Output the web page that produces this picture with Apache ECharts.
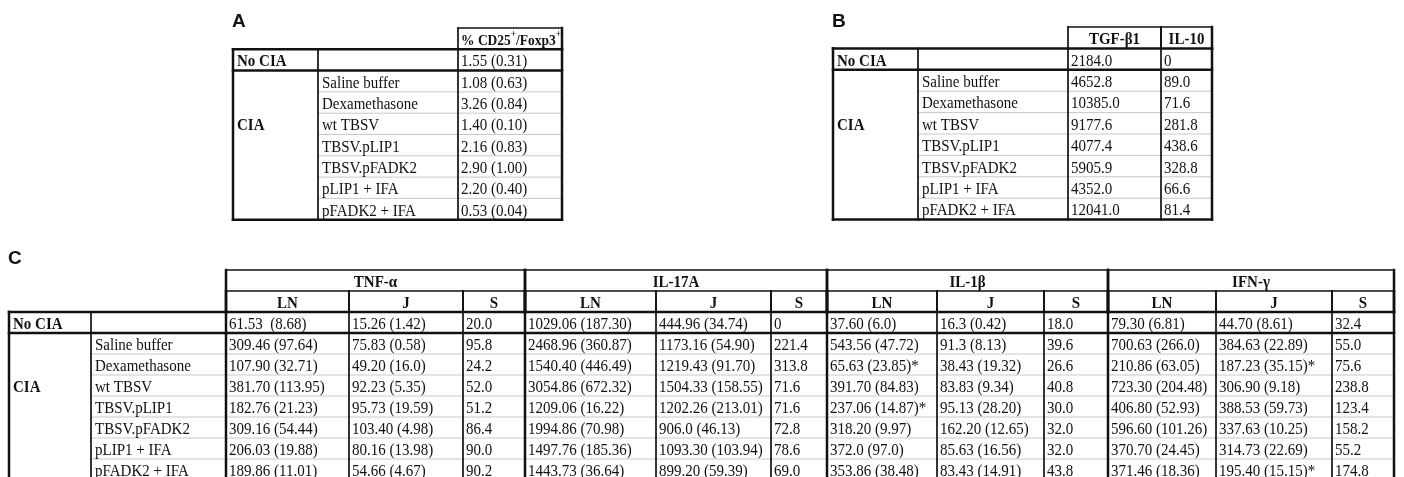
<!DOCTYPE html>
<html><head><meta charset="utf-8">
<script src="https://cdn.jsdelivr.net/npm/echarts@6/dist/echarts.min.js"></script>
<style>html,body{margin:0;padding:0;background:#fff}#c{width:1404px;height:477px}</style>
</head><body><div id="c"></div>
<script>
// ---------------- data ----------------
const groups = ['No CIA', 'CIA'];
const treatments = ['Saline buffer', 'Dexamethasone', 'wt TBSV', 'TBSV.pLIP1', 'TBSV.pFADK2', 'pLIP1 + IFA', 'pFADK2 + IFA'];

// Table A  (first entry = No CIA, then treatments)
const tableAHeader = '% CD25{sup|+}/Foxp3{sup|+}';
const cd25Foxp3 = ['1.55 (0.31)', '1.08 (0.63)', '3.26 (0.84)', '1.40 (0.10)', '2.16 (0.83)', '2.90 (1.00)', '2.20 (0.40)', '0.53 (0.04)'];

// Table B
const tableBHeaders = ['TGF-β1', 'IL-10'];
const tgfB1 = ['2184.0', '4652.8', '10385.0', '9177.6', '4077.4', '5905.9', '4352.0', '12041.0'];
const il10 = ['0', '89.0', '71.6', '281.8', '438.6', '328.8', '66.6', '81.4'];

// Table C
const cytokines = ['TNF-α', 'IL-17A', 'IL-1β', 'IFN-γ'];
const tissues = ['LN', 'J', 'S'];
const tnfLN = ['61.53  (8.68)', '309.46 (97.64)', '107.90 (32.71)', '381.70 (113.95)', '182.76 (21.23)', '309.16 (54.44)', '206.03 (19.88)', '189.86 (11.01)'];
const tnfJ = ['15.26 (1.42)', '75.83 (0.58)', '49.20 (16.0)', '92.23 (5.35)', '95.73 (19.59)', '103.40 (4.98)', '80.16 (13.98)', '54.66 (4.67)'];
const tnfS = ['20.0', '95.8', '24.2', '52.0', '51.2', '86.4', '90.0', '90.2'];
const il17aLN = ['1029.06 (187.30)', '2468.96 (360.87)', '1540.40 (446.49)', '3054.86 (672.32)', '1209.06 (16.22)', '1994.86 (70.98)', '1497.76 (185.36)', '1443.73 (36.64)'];
const il17aJ = ['444.96 (34.74)', '1173.16 (54.90)', '1219.43 (91.70)', '1504.33 (158.55)', '1202.26 (213.01)', '906.0 (46.13)', '1093.30 (103.94)', '899.20 (59.39)'];
const il17aS = ['0', '221.4', '313.8', '71.6', '71.6', '72.8', '78.6', '69.0'];
const il1bLN = ['37.60 (6.0)', '543.56 (47.72)', '65.63 (23.85)*', '391.70 (84.83)', '237.06 (14.87)*', '318.20 (9.97)', '372.0 (97.0)', '353.86 (38.48)'];
const il1bJ = ['16.3 (0.42)', '91.3 (8.13)', '38.43 (19.32)', '83.83 (9.34)', '95.13 (28.20)', '162.20 (12.65)', '85.63 (16.56)', '83.43 (14.91)'];
const il1bS = ['18.0', '39.6', '26.6', '40.8', '30.0', '32.0', '32.0', '43.8'];
const ifngLN = ['79.30 (6.81)', '700.63 (266.0)', '210.86 (63.05)', '723.30 (204.48)', '406.80 (52.93)', '596.60 (101.26)', '370.70 (24.45)', '371.46 (18.36)'];
const ifngJ = ['44.70 (8.61)', '384.63 (22.89)', '187.23 (35.15)*', '306.90 (9.18)', '388.53 (59.73)', '337.63 (10.25)', '314.73 (22.69)', '195.40 (15.15)*'];
const ifngS = ['32.4', '55.0', '75.6', '238.8', '123.4', '158.2', '55.2', '174.8'];

// ---------------- layout / style ----------------
const SERIF = '"Liberation Serif", "Times New Roman", serif';
const TEXT_SCALE_Y = 1.15;
const LINE = { grey: { stroke: '#c8c8c8', w: 1 }, thin: { stroke: '#111', w: 1.7 }, thick: { stroke: '#111', w: 2.5 } };

function buildTable(cfg) {
  const H = cfg.headRows;
  const nRows = H + 1 + treatments.length;
  const nC = 2 + cfg.columns.length;
  const edges = [0];
  cfg.colW.forEach(w => edges.push(edges[edges.length - 1] + w));
  const cells = [];
  cfg.headCells.forEach(h => cells.push(Object.assign({ bold: true }, h)));
  cells.push({ c: 0, r: H, span: 1, text: groups[0], bold: true });
  cells.push({ c: 0, r: H + 1 + 2, span: 1, text: groups[1], bold: true });
  treatments.forEach((t, i) => cells.push({ c: 1, r: H + 1 + i, span: 1, text: t }));
  cfg.columns.forEach((arr, j) => arr.forEach((v, i) => cells.push({ c: 2 + j, r: H + i, span: 1, text: v })));
  const thickCols = cfg.thickCols || [];
  const vk = c => (c === 0 || c === nC || thickCols.indexOf(c) >= 0) ? 'thick' : 'thin';
  const lines = { grey: [], thin: [], thick: [] };
  cfg.headCells.forEach(h => {
    lines.thin.push([h.c, h.r, h.c + h.span, h.r]);
    lines[vk(h.c)].push([h.c, h.r, h.c, H]);
    lines[vk(h.c + h.span)].push([h.c + h.span, h.r, h.c + h.span, H]);
  });
  lines.thick.push([0, H, nC, H]);
  lines.thick.push([0, H + 1, nC, H + 1]);
  lines.thick.push([0, nRows, nC, nRows]);
  for (let r = H + 2; r < nRows; r++) lines.grey.push([1, r, nC, r]);
  for (let c = 0; c <= nC; c++) lines[vk(c)].push([c, H, c, nRows]);
  return { cells, lines, edges, nRows, width: edges[edges.length - 1], left: cfg.left, top: cfg.top, rowH: cfg.rowH };
}

const tA = buildTable({
  left: 233, top: 28, rowH: 21.3, colW: [85, 140, 104], headRows: 1,
  headCells: [{ c: 2, r: 0, span: 1, text: tableAHeader, align: 'left', size: 13.5 }],
  columns: [cd25Foxp3]
});
const tB = buildTable({
  left: 833, top: 27, rowH: 21.4, colW: [85, 150, 93, 51], headRows: 1,
  headCells: tableBHeaders.map((h, i) => ({ c: 2 + i, r: 0, span: 1, text: h, align: 'center' })),
  columns: [tgfB1, il10]
});
const cHead = [];
cytokines.forEach((cy, k) => {
  cHead.push({ c: 2 + 3 * k, r: 0, span: 3, text: cy, align: 'center' });
  tissues.forEach((ts, j) => cHead.push({ c: 2 + 3 * k + j, r: 1, span: 1, text: ts, align: 'center' }));
});
const tC = buildTable({
  left: 9, top: 270, rowH: 21, colW: [82, 135, 123, 114, 62, 131, 115, 56, 110, 107, 64, 108, 116, 62], headRows: 2,
  headCells: cHead, thickCols: [2, 5, 8, 11],
  columns: [tnfLN, tnfJ, tnfS, il17aLN, il17aJ, il17aS, il1bLN, il1bJ, il1bS, ifngLN, ifngJ, ifngS]
});

const tables = [tA, tB, tC];
const grids = [], xAxes = [], yAxes = [], series = [];
tables.forEach((t, gi) => {
  grids.push({ left: t.left, top: t.top, width: t.width, height: t.nRows * t.rowH, outerBoundsMode: 'none' });
  xAxes.push({ type: 'value', gridIndex: gi, min: 0, max: t.width, show: false });
  yAxes.push({ type: 'value', gridIndex: gi, min: 0, max: t.nRows, inverse: true, show: false });
  ['grey', 'thin', 'thick'].forEach((kind, ki) => {
    series.push({
      type: 'custom', xAxisIndex: gi, yAxisIndex: gi, silent: true, z: 2 + ki, clip: false,
      data: t.lines[kind].map(l => [t.edges[l[0]], l[1], t.edges[l[2]], l[3]]),
      renderItem: (p, api) => {
        const a = api.coord([api.value(0), api.value(1)]);
        const b = api.coord([api.value(2), api.value(3)]);
        return { type: 'line', shape: { x1: a[0], y1: a[1], x2: b[0], y2: b[1] },
          style: { stroke: LINE[kind].stroke, lineWidth: LINE[kind].w, lineCap: 'square' } };
      }
    });
  });
  series.push({
    type: 'custom', xAxisIndex: gi, yAxisIndex: gi, silent: true, z: 10, clip: false,
    data: t.cells.map(c => [t.edges[c.c], c.r, t.edges[c.c + c.span], c.r + 1]),
    renderItem: (p, api) => {
      const cell = t.cells[p.dataIndex];
      const a = api.coord([api.value(0), api.value(1)]);
      const b = api.coord([api.value(2), api.value(3)]);
      const align = cell.align || 'left';
      const x = align === 'center' ? (a[0] + b[0]) / 2 : a[0] + (cell.c < 2 ? 4 : 3);
      const size = cell.size || 15;
      const font = (cell.bold ? 'bold ' : '') + size + 'px ' + SERIF;
      return {
        type: 'text',
        x: x, y: (a[1] + b[1]) / 2 + 2, scaleY: TEXT_SCALE_Y,
        style: {
          text: cell.text, x: 0, y: 0,
          align: align, textAlign: align, verticalAlign: 'middle', textVerticalAlign: 'middle',
          font: font, fill: '#111', lineHeight: 20,
          rich: { sup: { font: 'bold ' + Math.round(size * 0.68) + 'px ' + SERIF, fill: '#111', verticalAlign: 'top', lineHeight: 11 } }
        }
      };
    }
  });
});

const labelStyle = { fontFamily: '"Liberation Sans", Arial, sans-serif', fontWeight: 'bold', fontSize: 19, color: '#111' };
const option = {
  animation: false,
  backgroundColor: '#fff',
  title: [
    { text: 'A', left: 232, top: 12, padding: 0, textStyle: labelStyle },
    { text: 'B', left: 832, top: 12, padding: 0, textStyle: labelStyle },
    { text: 'C', left: 8, top: 249, padding: 0, textStyle: labelStyle }
  ],
  grid: grids, xAxis: xAxes, yAxis: yAxes, series: series
};
const chart = echarts.init(document.getElementById('c'), null, { renderer: 'canvas' });
chart.setOption(option);
</script>
</body></html>
